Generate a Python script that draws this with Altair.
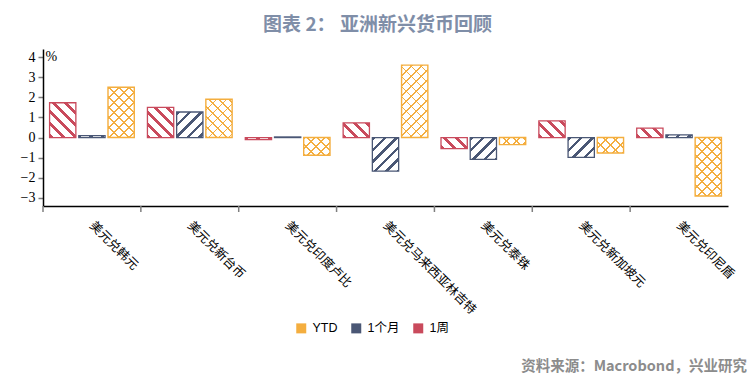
import math
import altair as alt
import pandas as pd

# ---- data ----
categories = ["美元兑韩元", "美元兑新台币", "美元兑印度卢比", "美元兑马来西亚林吉特",
              "美元兑泰铢", "美元兑新加坡元", "美元兑印尼盾"]
series_names = ["1周", "1个月", "YTD"]
week = [1.73, 1.50, -0.10, 0.73, -0.55, 0.83, 0.47]
month = [0.10, 1.27, 0.03, -1.67, -1.08, -0.98, 0.13]
ytd = [2.50, 1.90, -0.88, 3.60, -0.35, -0.77, -2.90]
y_ticks = [-3, -2, -1, 0, 1, 2, 3, 4]

values_by_series = {"1周": week, "1个月": month, "YTD": ytd}
rows = []
for i, c in enumerate(categories):
    for s in series_names:
        rows.append({"cat": c, "series": s, "value": values_by_series[s][i]})
df = pd.DataFrame(rows)

# ---- styling ----
RED = "#C94A5C"
NAVY = "#4A5775"
ORANGE = "#F4AE3F"
W, H = 685, 157
YMIN, YMAX = -3.4, 4.4
PPU = H / (YMAX - YMIN)
STEP = W / len(categories)
OFF_PI, OFF_PO = 0.1, 0.225
BW = STEP / (3 - OFF_PI + 2 * OFF_PO) * (1 - OFF_PI)

SANS = "'Noto Sans CJK SC', sans-serif"
SERIF = "'Liberation Serif', 'Times New Roman', serif"


def stripe_gradient(w, h, period, thick, color, bg, direction):
    L = w + h
    den = w * w + h * h
    kx, ky = w * L / den, h * L / den
    stops = []
    k = 0
    while k * period < L:
        a = k * period / L
        b = min((k * period + thick) / L, 1.0)
        nxt = min((k + 1) * period / L, 1.0)
        stops += [alt.GradientStop(offset=a, color=color),
                  alt.GradientStop(offset=b, color=color),
                  alt.GradientStop(offset=b, color=bg),
                  alt.GradientStop(offset=nxt, color=bg)]
        k += 1
    if direction == "/":
        return alt.LinearGradient(gradient="linear", stops=stops, x1=0, y1=0, x2=kx, y2=ky)
    return alt.LinearGradient(gradient="linear", stops=stops, x1=0, y1=1, x2=kx, y2=1 - ky)


x_scale = alt.Scale(domain=categories, paddingInner=0, paddingOuter=0)
x_axis = alt.Axis(title=None, labelAngle=45, labelAlign="left", labelBaseline="middle",
                  labelFont=SANS, labelFontSize=12.5, labelColor="#000000", labelPadding=17,
                  ticks=False, domainColor="#000000", domainWidth=1.5, labelOverlap=False)
X = alt.X("cat:N", scale=x_scale, axis=x_axis, sort=categories)
XO = alt.XOffset("series:N", scale=alt.Scale(domain=series_names, paddingInner=OFF_PI,
                                             paddingOuter=OFF_PO))
y_axis = alt.Axis(title="%", titleAngle=0, titleAlign="left", titleBaseline="top",
                  titleX=2, titleY=0, titleFont=SERIF, titleFontSize=14,
                  titleFontWeight="normal", titleColor="#000000",
                  values=y_ticks, grid=False, labelFont=SERIF, labelFontSize=14,
                  labelColor="#000000", labelPadding=3, tickColor="#7f7f7f", tickSize=5,
                  tickWidth=1.5, domainColor="#000000", domainWidth=1.5)
Y = alt.Y("value:Q", scale=alt.Scale(domain=[YMIN, YMAX], nice=False, zero=False), axis=y_axis)

base = alt.Chart(df)
layers = []
for i, c in enumerate(categories):
    for s in series_names:
        v = values_by_series[s][i]
        h = max(abs(v) * PPU, 0.6)
        sel = base.transform_filter((alt.datum.cat == c) & (alt.datum.series == s))
        if s == "1周":
            g = stripe_gradient(BW, h, 12, 4, RED, "#ffffff", "\\")
            layers.append(sel.mark_bar(fill=g, stroke=RED, strokeWidth=1.3)
                          .encode(x=X, xOffset=XO, y=Y))
        elif s == "1个月":
            g = stripe_gradient(BW, h, 11.5, 3.5, NAVY, "#ffffff", "/")
            layers.append(sel.mark_bar(fill=g, stroke=NAVY, strokeWidth=1.3)
                          .encode(x=X, xOffset=XO, y=Y))
        else:
            g1 = stripe_gradient(BW, h, 10, 1.8, ORANGE, "#ffffff", "/")
            g2 = stripe_gradient(BW, h, 10, 1.8, ORANGE, "rgba(255,255,255,0)", "\\")
            layers.append(sel.mark_bar(fill=g1, strokeWidth=0).encode(x=X, xOffset=XO, y=Y))
            layers.append(sel.mark_bar(fill=g2, stroke=ORANGE, strokeWidth=1.4)
                          .encode(x=X, xOffset=XO, y=Y))

# category boundary ticks on the x axis
ticks = base.transform_filter(alt.datum.series == "1周").mark_rule(
    color="#7f7f7f", strokeWidth=1.5).encode(
    x=alt.X("cat:N", scale=x_scale, axis=x_axis, sort=categories, bandPosition=0),
    y=alt.value(H), y2=alt.value(H + 6))
layers.append(ticks)

# legend
legend_layer = base.transform_filter("false").mark_square().encode(
    color=alt.Color("series:N",
                    scale=alt.Scale(domain=["YTD", "1个月", "1周"], range=[ORANGE, NAVY, RED]),
                    legend=alt.Legend(title=None, orient="none", legendX=252, legendY=273,
                                      direction="horizontal", symbolType="square",
                                      symbolSize=100, symbolStrokeWidth=0, symbolOpacity=1,
                                      labelFont="'Liberation Sans', 'Noto Sans CJK SC', sans-serif",
                                      labelFontSize=12.5, labelColor="#000000",
                                      columnPadding=12, labelOffset=5)))
layers.append(legend_layer)

# source note
source = alt.Chart(alt.Data(values=[{}])).mark_text(
    align="right", baseline="middle", font=SANS, fontSize=14.5, fontWeight="bold",
    color="#8c8c8c").encode(x=alt.value(704), y=alt.value(318),
                            text=alt.value("资料来源：Macrobond，兴业研究"))
layers.append(source)

chart = alt.layer(*layers).properties(
    width=W, height=H,
    autosize=alt.AutoSizeParams(type="none"),
    padding={"left": 35, "top": 41, "right": 19, "bottom": 174},
    title=alt.TitleParams("图表 2：  亚洲新兴货币回顾", anchor="middle", frame="group",
                          font=SANS, fontSize=19, fontWeight="bold", color="#7F8EA8",
                          offset=14, dx=-8),
).configure_view(stroke=None)

chart.save("out.html", embed_options={"renderer": "svg", "actions": False})
